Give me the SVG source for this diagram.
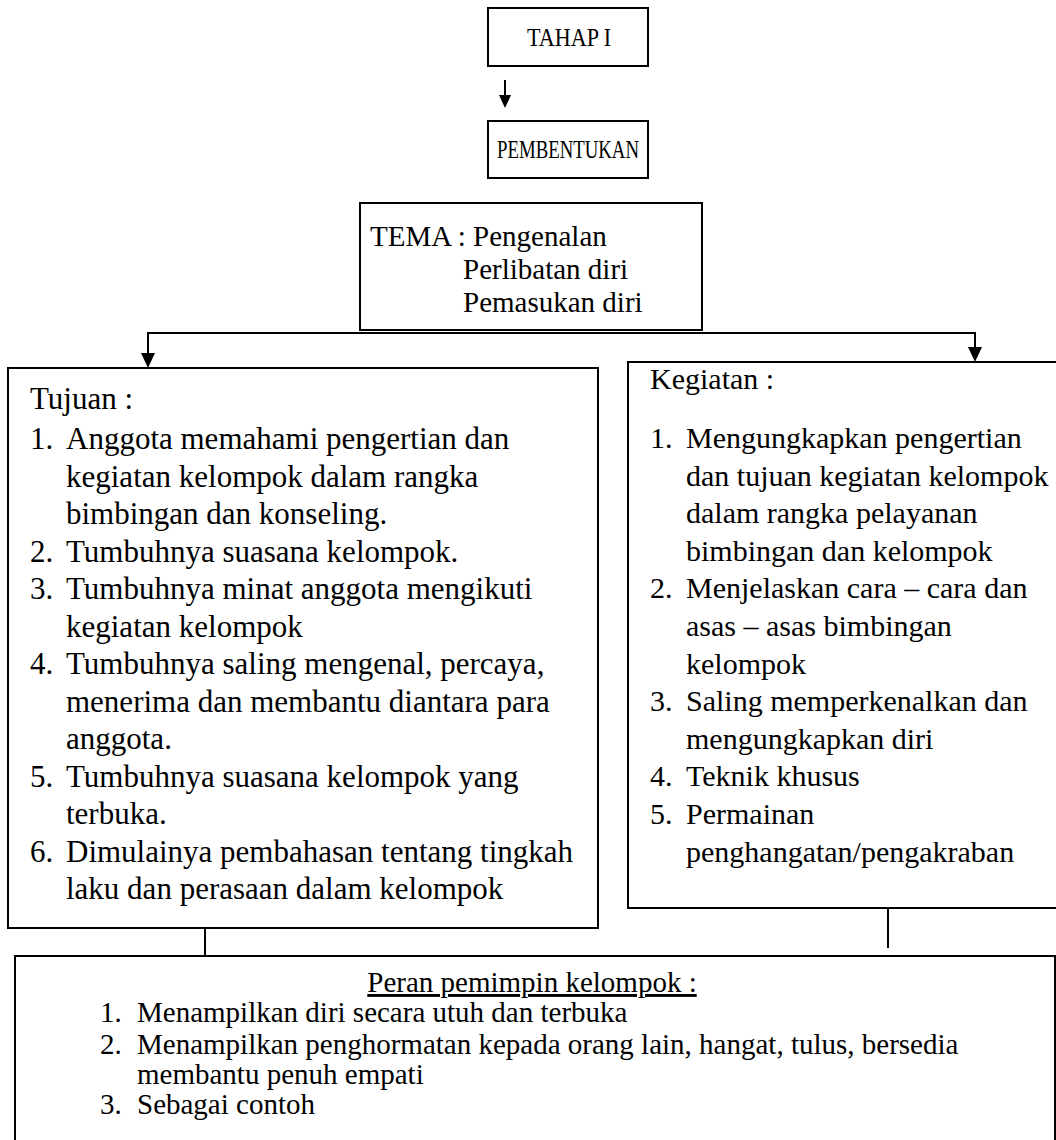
<svg xmlns="http://www.w3.org/2000/svg" width="1056" height="1140" viewBox="0 0 1056 1140">
<style>
text{font-family:"Liberation Serif","Times New Roman",serif;fill:#000}
.box{fill:#fff;stroke:#000;stroke-width:2}
.h{font-size:25px}
.tm{font-size:29px}
.l{font-size:31px}
.r{font-size:30px}
.b{font-size:29px}
.c{stroke:#000;stroke-width:2;fill:none}
.hd{fill:#000}
</style>
<rect width="1056" height="1140" fill="#fff"/>
<g id="connectors">
<line class="c" x1="505" y1="80" x2="505" y2="96"/>
<path class="hd" d="M499,95 L511,95 L505,108 Z"/>
<polyline class="c" points="148,356 148,333 975,333 975,350"/>
<path class="hd" d="M141,353 L155,353 L148,368 Z"/>
<path class="hd" d="M968,347 L982,347 L975,362 Z"/>
<line class="c" x1="205" y1="929" x2="205" y2="955"/>
<line class="c" x1="888" y1="902" x2="888" y2="948"/>
</g>
<g id="tahap">
<rect class="box" x="488" y="8" width="160" height="58"/>
<text class="h" x="527" y="46" textLength="84" lengthAdjust="spacingAndGlyphs">TAHAP I</text>
</g>
<g id="pembentukan">
<rect class="box" x="488" y="121" width="160" height="57"/>
<text class="h" x="497" y="158" textLength="142" lengthAdjust="spacingAndGlyphs">PEMBENTUKAN</text>
</g>
<g id="tema">
<rect class="box" x="360" y="203" width="342" height="127"/>
<text class="tm" x="370" y="246">TEMA : Pengenalan</text>
<text class="tm" x="463" y="279">Perlibatan diri</text>
<text class="tm" x="463" y="312">Pemasukan diri</text>
</g>
<g id="tujuan">
<rect class="box" x="8" y="368" width="590" height="560"/>
<text class="l" x="30" y="409">Tujuan :</text>
<text class="l" x="30" y="449">1.</text><text class="l" x="66" y="449">Anggota memahami pengertian dan</text>
<text class="l" x="66" y="486.5">kegiatan kelompok dalam rangka</text>
<text class="l" x="66" y="524">bimbingan dan konseling.</text>
<text class="l" x="30" y="561.5">2.</text><text class="l" x="66" y="561.5">Tumbuhnya suasana kelompok.</text>
<text class="l" x="30" y="599">3.</text><text class="l" x="66" y="599">Tumbuhnya minat anggota mengikuti</text>
<text class="l" x="66" y="636.5">kegiatan kelompok</text>
<text class="l" x="30" y="674">4.</text><text class="l" x="66" y="674">Tumbuhnya saling mengenal, percaya,</text>
<text class="l" x="66" y="711.5">menerima dan membantu diantara para</text>
<text class="l" x="66" y="749">anggota.</text>
<text class="l" x="30" y="786.5">5.</text><text class="l" x="66" y="786.5">Tumbuhnya suasana kelompok yang</text>
<text class="l" x="66" y="824">terbuka.</text>
<text class="l" x="30" y="861.5">6.</text><text class="l" x="66" y="861.5">Dimulainya pembahasan tentang tingkah</text>
<text class="l" x="66" y="899">laku dan perasaan dalam kelompok</text>
</g>
<g id="kegiatan">
<rect class="box" x="628" y="362" width="440" height="546"/>
<text class="r" x="650" y="389">Kegiatan :</text>
<text class="r" x="650" y="448">1.</text><text class="r" x="686" y="448">Mengungkapkan pengertian</text>
<text class="r" x="686" y="485.6">dan tujuan kegiatan kelompok</text>
<text class="r" x="686" y="523.2">dalam rangka pelayanan</text>
<text class="r" x="686" y="560.8">bimbingan dan kelompok</text>
<text class="r" x="650" y="598.4">2.</text><text class="r" x="686" y="598.4">Menjelaskan cara – cara dan</text>
<text class="r" x="686" y="636">asas – asas bimbingan</text>
<text class="r" x="686" y="673.6">kelompok</text>
<text class="r" x="650" y="711.2">3.</text><text class="r" x="686" y="711.2">Saling memperkenalkan dan</text>
<text class="r" x="686" y="748.8">mengungkapkan diri</text>
<text class="r" x="650" y="786.4">4.</text><text class="r" x="686" y="786.4">Teknik khusus</text>
<text class="r" x="650" y="824">5.</text><text class="r" x="686" y="824">Permainan</text>
<text class="r" x="686" y="861.6">penghangatan/pengakraban</text>
</g>
<g id="peran">
<rect class="box" x="15" y="956" width="1040" height="200"/>
<text class="b" x="532" y="992" text-anchor="middle" text-decoration="underline">Peran pemimpin kelompok :</text>
<text class="b" x="100" y="1022">1.</text><text class="b" x="137" y="1022">Menampilkan diri secara utuh dan terbuka</text>
<text class="b" x="100" y="1054">2.</text><text class="b" x="137" y="1054">Menampilkan penghormatan kepada orang lain, hangat, tulus, bersedia</text>
<text class="b" x="137" y="1084">membantu penuh empati</text>
<text class="b" x="100" y="1114">3.</text><text class="b" x="137" y="1114">Sebagai contoh</text>
</g>
</svg>
